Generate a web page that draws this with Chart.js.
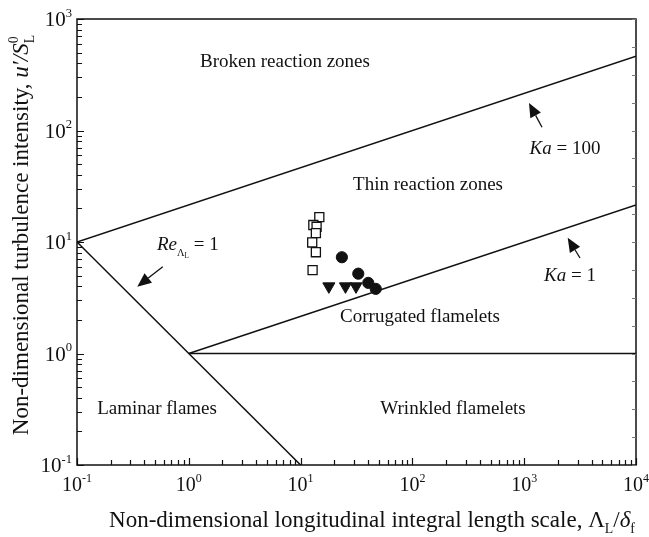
<!DOCTYPE html>
<html>
<head>
<meta charset="utf-8">
<script src="https://cdn.jsdelivr.net/npm/chart.js@4.4.1/dist/chart.umd.min.js"></script>
<style>
  html, body { margin: 0; padding: 0; background: #fff; }
  #regime { display: block; }
</style>
</head>
<body>
<canvas id="regime" width="649" height="537"></canvas>
<script>
// regime boundaries (length scale ratio vs turbulence intensity)
const ka100X = [0.1, 10000];
const ka100Y = [10, 464];
const ka1X = [1, 10000];
const ka1Y = [1, 21.5];
const reX = [0.1, 10];
const reY = [10, 0.1];
const unityX = [1, 10000];
const unityY = [1, 1];

// measured conditions
const squareX = [14.7, 13.0, 13.9, 13.7, 12.7, 13.7, 12.8];
const squareY = [16.7, 14.2, 13.7, 12.0, 9.9, 8.1, 5.6];
const circleX = [23.4, 32.8, 40.3, 47.0];
const circleY = [7.3, 5.2, 4.3, 3.8];
const triangleX = [17.9, 25.2, 31.3];
const triangleY = [4.0, 4.0, 4.0];

// axis decades
const xDecades = [-1, 0, 1, 2, 3, 4];
const yDecades = [-1, 0, 1, 2, 3];

const FONT = '"Liberation Serif", "DejaVu Serif", serif';

function toPoints(xs, ys) {
  return xs.map((x, i) => ({ x: x, y: ys[i] }));
}

// region names, placed by data coordinates (centre of text)
const regionText = [
  [{ text: 'Broken reaction zones' }],
  [{ text: 'Thin reaction zones' }],
  [{ text: 'Corrugated flamelets' }],
  [{ text: 'Wrinkled flamelets' }],
  [{ text: 'Laminar flames' }],
  [{ text: 'Ka', italic: true }, { text: ' = 100' }],
  [{ text: 'Ka', italic: true }, { text: ' = 1' }],
  [{ text: 'Re', italic: true }, { text: 'Λ', scale: 0.55, dy: 0.3 }, { text: 'L', scale: 0.38, dy: 0.42 }, { text: ' = 1' }]
];
const regionAt = [
  [7.25, 428], [138, 33.8], [117, 2.17], [231, 0.331], [0.52, 0.331],
  [2317, 69.7], [2570, 5.16], [0.98, 9.6]
];
// arrows: tail -> head
const arrows = [
  [[1443, 107], [1104, 176.5]],
  [[3155, 7.19], [2449, 10.9]],
  [[0.585, 6.01], [0.346, 3.97]]
];

function runFont(r, size) {
  return (r.italic ? 'italic ' : '') + (size * (r.scale || 1)) + 'px ' + FONT;
}

function runWidth(ctx, r, size) {
  if (r.stack) return Math.max.apply(null, r.stack.map(s => runWidth(ctx, s, size)));
  ctx.font = runFont(r, size);
  return ctx.measureText(r.text).width;
}

// draw a line of mixed text runs (italic, raised, lowered) at a baseline
function drawRich(ctx, runs, x, y, size, align) {
  const total = runs.reduce((w, r) => w + runWidth(ctx, r, size), 0);
  let cx = align === 'center' ? x - total / 2 : (align === 'right' ? x - total : x);
  ctx.textAlign = 'left';
  ctx.textBaseline = 'alphabetic';
  runs.forEach(r => {
    const parts = r.stack || [r];
    parts.forEach(p => {
      ctx.font = runFont(p, size);
      ctx.fillText(p.text, cx, y + (p.dy || 0) * size);
    });
    cx += runWidth(ctx, r, size);
  });
}

function drawArrow(ctx, x1, y1, x2, y2) {
  const ang = Math.atan2(y2 - y1, x2 - x1);
  const len = 14, half = 6;
  const bx = x2 - Math.cos(ang) * len, by = y2 - Math.sin(ang) * len;
  ctx.beginPath();
  ctx.moveTo(x1, y1);
  ctx.lineTo(bx, by);
  ctx.lineWidth = 1.3;
  ctx.stroke();
  ctx.beginPath();
  ctx.moveTo(x2, y2);
  ctx.lineTo(bx + Math.sin(ang) * half, by - Math.cos(ang) * half);
  ctx.lineTo(bx - Math.sin(ang) * half, by + Math.cos(ang) * half);
  ctx.closePath();
  ctx.fill();
}

const frameAndLabels = {
  id: 'frameAndLabels',
  afterDraw(chart) {
    const ctx = chart.ctx;
    const area = chart.chartArea;
    const xs = chart.scales.x, ys = chart.scales.y;
    ctx.save();
    ctx.strokeStyle = '#111';
    ctx.fillStyle = '#111';

    // frame
    ctx.lineWidth = 1.5;
    ctx.strokeRect(area.left, area.top, area.right - area.left, area.bottom - area.top);

    // inward ticks on bottom and left
    ctx.lineWidth = 1.2;
    ctx.beginPath();
    xDecades.forEach(d => {
      for (let m = 1; m <= (d === 4 ? 1 : 9); m++) {
        const px = Math.round(xs.getPixelForValue(m * Math.pow(10, d))) + 0.5;
        const l = m === 1 ? 7 : 5;
        ctx.moveTo(px, area.bottom);
        ctx.lineTo(px, area.bottom - l);
      }
    });
    yDecades.forEach(d => {
      for (let m = 1; m <= (d === 3 ? 1 : 9); m++) {
        const py = Math.round(ys.getPixelForValue(m * Math.pow(10, d))) + 0.5;
        const l = m === 1 ? 7 : 5;
        ctx.moveTo(area.left, py);
        ctx.lineTo(area.left + l, py);
      }
    });
    ctx.stroke();

    // faint ticks on right edge
    ctx.strokeStyle = '#777';
    ctx.lineWidth = 1;
    ctx.beginPath();
    for (let k = -4; k <= 12; k++) {
      const py = Math.round(ys.getPixelForValue(Math.pow(10, k / 4))) + 0.5;
      ctx.moveTo(area.right, py);
      ctx.lineTo(area.right - 4, py);
    }
    ctx.stroke();
    ctx.strokeStyle = '#111';

    // tick labels
    xDecades.forEach(d => {
      drawRich(ctx, [{ text: '10' }, { text: String(d), scale: 0.6, dy: -0.45 }],
        xs.getPixelForValue(Math.pow(10, d)), 491, 20, 'center');
    });
    yDecades.forEach(d => {
      drawRich(ctx, [{ text: '10' }, { text: String(d), scale: 0.6, dy: -0.45 }],
        area.left - 5, ys.getPixelForValue(Math.pow(10, d)) + 7, 21, 'right');
    });

    // axis titles
    drawRich(ctx, [
      { text: 'Non-dimensional longitudinal integral length scale, Λ' },
      { text: 'L', scale: 0.6, dy: 0.25 },
      { text: '/' },
      { text: 'δ', italic: true },
      { text: 'f', scale: 0.6, dy: 0.25 }
    ], 372, 527, 23, 'center');

    ctx.save();
    ctx.translate(28, 235);
    ctx.rotate(-Math.PI / 2);
    drawRich(ctx, [
      { text: 'Non-dimensional turbulence intensity, ' },
      { text: 'u′/S', italic: true },
      { stack: [{ text: '0', scale: 0.6, dy: -0.45 }, { text: 'L', scale: 0.6, dy: 0.25 }] }
    ], 0, 0, 23, 'center');
    ctx.restore();

    // region names
    regionText.forEach((runs, i) => {
      const px = xs.getPixelForValue(regionAt[i][0]);
      const py = ys.getPixelForValue(regionAt[i][1]);
      drawRich(ctx, runs, px, py + 6.5, 19, 'center');
    });

    // arrows
    arrows.forEach(a => {
      drawArrow(ctx,
        xs.getPixelForValue(a[0][0]), ys.getPixelForValue(a[0][1]),
        xs.getPixelForValue(a[1][0]), ys.getPixelForValue(a[1][1]));
    });
    ctx.restore();
  }
};

const boundary = (xs, ys) => ({
  data: toPoints(xs, ys),
  showLine: true,
  borderColor: '#111',
  borderWidth: 1.5,
  pointRadius: 0,
  order: 2
});

new Chart(document.getElementById('regime'), {
  type: 'scatter',
  data: {
    datasets: [
      boundary(ka100X, ka100Y),
      boundary(ka1X, ka1Y),
      boundary(reX, reY),
      boundary(unityX, unityY),
      {
        data: toPoints(squareX, squareY),
        pointStyle: 'rect',
        pointRadius: 6.4,
        backgroundColor: '#fff',
        borderColor: '#111',
        borderWidth: 1.3,
        order: 1
      },
      {
        data: toPoints(circleX, circleY),
        pointStyle: 'circle',
        pointRadius: 5.6,
        backgroundColor: '#111',
        borderColor: '#111',
        borderWidth: 1,
        order: 1
      },
      {
        data: toPoints(triangleX, triangleY),
        pointStyle: 'triangle',
        rotation: 180,
        pointRadius: 7,
        backgroundColor: '#111',
        borderColor: '#111',
        borderWidth: 1,
        order: 1
      }
    ]
  },
  options: {
    responsive: false,
    animation: false,
    devicePixelRatio: 1,
    layout: { padding: { left: 77, top: 19, right: 13, bottom: 72 } },
    plugins: { legend: { display: false }, tooltip: { enabled: false } },
    scales: {
      x: { type: 'logarithmic', min: 0.1, max: 10000, display: false },
      y: { type: 'logarithmic', min: 0.1, max: 1000, display: false }
    }
  },
  plugins: [frameAndLabels]
});
</script>
</body>
</html>
